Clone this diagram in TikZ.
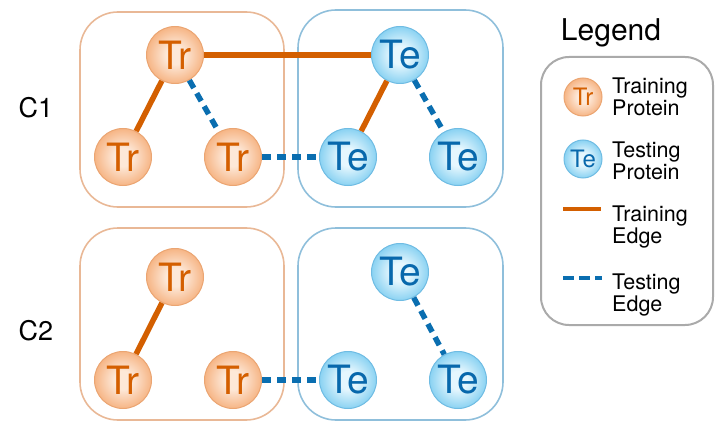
\documentclass[tikz,border=0pt]{standalone}
\usepackage{fontspec}
\setmainfont{TeX Gyre Heros}
\definecolor{trIn}{HTML}{FDE8D8}
\definecolor{trOut}{HTML}{F6B585}
\definecolor{trDraw}{HTML}{EBA572}
\definecolor{trText}{HTML}{D45F00}
\definecolor{trEdge}{HTML}{D35F00}
\definecolor{teIn}{HTML}{E6F7FE}
\definecolor{teOut}{HTML}{8AD2F2}
\definecolor{teDraw}{HTML}{6FBCE3}
\definecolor{teText}{HTML}{0868AC}
\definecolor{teEdge}{HTML}{0A6EB0}
\definecolor{oBox}{HTML}{E9B896}
\definecolor{bBox}{HTML}{8FBFDB}
\definecolor{lgBox}{HTML}{AAAAAA}
\pgfdeclareradialshading{trball}{\pgfpoint{0bp}{0bp}}{color(0bp)=(trIn); color(8bp)=(trIn); color(25bp)=(trOut); color(50bp)=(trOut)}
\pgfdeclareradialshading{teball}{\pgfpoint{0bp}{0bp}}{color(0bp)=(teIn); color(8bp)=(teIn); color(25bp)=(teOut); color(50bp)=(teOut)}
\begin{document}
\begin{tikzpicture}[x=1pt,y=-1pt,
  trnode/.style={circle, minimum size=57pt, inner sep=0pt, draw=trDraw, line width=1pt,
    shading=trball, text=trText,
    font=\fontsize{39}{39}\selectfont},
  tenode/.style={circle, minimum size=57pt, inner sep=0pt, draw=teDraw, line width=1pt,
    shading=teball, text=teText,
    font=\fontsize{39}{39}\selectfont},
  trsmall/.style={trnode, minimum size=38pt, font=\fontsize{24}{24}\selectfont},
  tesmall/.style={tenode, minimum size=38pt, font=\fontsize{24}{24}\selectfont},
  tredge/.style={draw=trEdge, line width=5.5pt},
  teedge/.style={draw=teEdge, line width=5.5pt, dash pattern=on 9pt off 6pt},
  obox/.style={draw=oBox, line width=1.6pt, rounded corners=38pt},
  bbox/.style={draw=bBox, line width=1.6pt, rounded corners=38pt},
  clabel/.style={font=\fontsize{27}{27}\selectfont},
  lgtext/.style={anchor=west, align=left, inner sep=0pt, font=\fontsize{21.5}{22.5}\selectfont}
]
\useasboundingbox (0,0) rectangle (715,433);
% cluster boxes
\draw[obox] (80,12) rectangle (284,207);
\draw[bbox] (298,10) rectangle (503,207);
\draw[obox] (80,228) rectangle (284,420);
\draw[bbox] (298,228) rectangle (503,420);
% labels
\node[clabel] (c1) at (36,108) {C1};
\node[clabel] (c2) at (36,331) {C2};
% C1 nodes
\node[trnode] (trA) at (175,55) {Tr};
\node[trnode] (trB) at (123,157) {Tr};
\node[trnode] (trC) at (233,157) {Tr};
\node[tenode] (teA) at (400,55) {Te};
\node[tenode] (teB) at (348,157) {Te};
\node[tenode] (teC) at (458,157) {Te};
% C2 nodes
\node[trnode] (trD) at (175,277) {Tr};
\node[trnode] (trE) at (123,380) {Tr};
\node[trnode] (trF) at (233,380) {Tr};
\node[tenode] (teD) at (400,272) {Te};
\node[tenode] (teE) at (348,380) {Te};
\node[tenode] (teF) at (458,380) {Te};
% C1 edges
\draw[tredge] (trA) -- (teA);
\draw[tredge] (trA) -- (trB);
\draw[teedge] (trA) -- (trC);
\draw[teedge] (trC) -- (teB);
\draw[tredge] (teA) -- (teB);
\draw[teedge] (teA) -- (teC);
% C2 edges
\draw[tredge] (trD) -- (trE);
\draw[teedge] (trF) -- (teE);
\draw[teedge] (teD) -- (teF);
% legend
\node[font=\fontsize{30}{30}\selectfont] (lgtitle) at (611,33) {Legend};
\draw[draw=lgBox, line width=2pt, rounded corners=28pt] (541,57) rectangle (713,325);
\node[trsmall] (lgtr) at (583,97) {Tr};
\node[lgtext] (lgtrt) at (612,97) {Training\\Protein};
\node[tesmall] (lgte) at (583,159) {Te};
\node[lgtext] (lgtet) at (612,161) {Testing\\Protein};
\coordinate (la1) at (563,209);
\coordinate (la2) at (601,209);
\draw[tredge, line width=4.5pt] (la1) -- (la2);
\node[lgtext] (lgtrd) at (612,227) {Training\\Edge};
\coordinate (lb1) at (563,278);
\coordinate (lb2) at (602,278);
\draw[teedge, line width=4.5pt, dash pattern=on 11pt off 5pt] (lb1) -- (lb2);
\node[lgtext] (lgted) at (612,295) {Testing\\Edge};
\end{tikzpicture}
\end{document}
